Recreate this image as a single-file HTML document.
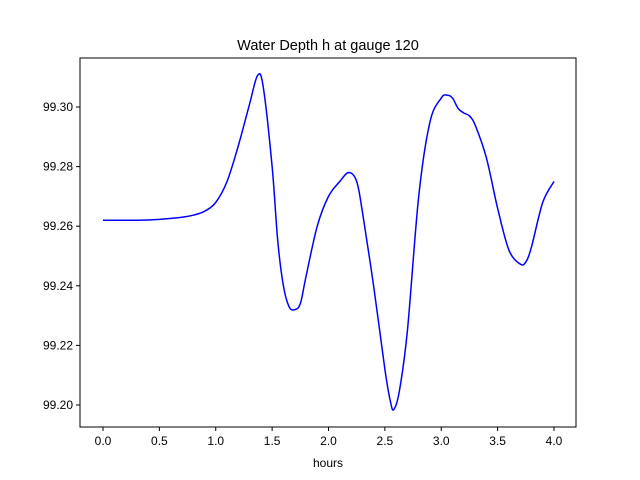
<!DOCTYPE html>
<html><head><meta charset="utf-8"><style>
body{margin:0;background:#fff}
svg{display:block;font-family:"Liberation Sans","DejaVu Sans",sans-serif}
</style></head><body>
<svg id="chart" width="640" height="480"></svg>
<script>
const tVals=[0,0.3,0.5,0.7,0.8,0.9,1.0,1.1,1.2,1.3,1.37,1.42,1.5,1.55,1.6,1.65,1.7,1.75,1.8,1.9,2.0,2.1,2.18,2.25,2.3,2.4,2.5,2.55,2.58,2.63,2.7,2.8,2.9,3.0,3.05,3.1,3.15,3.2,3.25,3.3,3.4,3.5,3.6,3.7,3.75,3.8,3.9,4.0];
const hVals=[99.262,99.262,99.2623,99.263,99.2637,99.265,99.268,99.275,99.287,99.301,99.3105,99.307,99.28,99.255,99.24,99.233,99.232,99.234,99.243,99.26,99.270,99.275,99.278,99.275,99.265,99.24,99.212,99.201,99.1985,99.205,99.225,99.27,99.295,99.303,99.304,99.303,99.2995,99.298,99.297,99.294,99.283,99.266,99.252,99.2473,99.248,99.253,99.268,99.275];
const xTicks=[0,0.5,1,1.5,2,2.5,3,3.5,4];
const xLabels=["0.0","0.5","1.0","1.5","2.0","2.5","3.0","3.5","4.0"];
const yTicks=[99.20,99.22,99.24,99.26,99.28,99.30];
const yLabels=["99.20","99.22","99.24","99.26","99.28","99.30"];
const NS="http://www.w3.org/2000/svg";
const svg=document.getElementById('chart');
const L=80,R=576,T=58,B=427;
const xs=v=>103+(v-0)*(554-103)/4;
const ys=v=>405-(v-99.20)*(405-107)/0.10;
function mk(tag,attrs,parent){const e=document.createElementNS(NS,tag);for(const k in attrs)e.setAttribute(k,attrs[k]);(parent||svg).appendChild(e);return e;}
const frame=mk('rect',{x:L,y:T,width:R-L,height:B-T,fill:'none',stroke:'#000','stroke-width':1});


xTicks.forEach((v,i)=>{
 const x=xs(v);
 const tk=mk('line',{x1:x,x2:x,y1:B,y2:B+4,stroke:'#000'});
 
 
 const tx=mk('text',{x:x,y:B+18,'font-size':12,'text-anchor':'middle'});
 tx.textContent=xLabels[i];
 
 
});
yTicks.forEach((v,i)=>{
 const y=ys(v);
 const tk=mk('line',{x1:L-4,x2:L,y1:y,y2:y,stroke:'#000'});
 
 
 const tx=mk('text',{x:L-7,y:y+4,'font-size':12,'text-anchor':'end'});
 tx.textContent=yLabels[i];
 
 
});
const P=tVals.map((t,i)=>[xs(t),ys(hVals[i])]);
let d='M'+P[0][0]+','+P[0][1];
for(let i=0;i<P.length-1;i++){
 const p0=P[Math.max(0,i-1)],p1=P[i],p2=P[i+1],p3=P[Math.min(P.length-1,i+2)];
 const c1=[p1[0]+(p2[0]-p0[0])/6,p1[1]+(p2[1]-p0[1])/6];
 const c2=[p2[0]-(p3[0]-p1[0])/6,p2[1]-(p3[1]-p1[1])/6];
 d+=' C'+c1[0]+','+c1[1]+' '+c2[0]+','+c2[1]+' '+p2[0]+','+p2[1];
}
const line=mk('path',{d:d,fill:'none',stroke:'#0000ff','stroke-width':1.5});


const title=mk('text',{x:328,y:50,'font-size':14.5,'text-anchor':'middle'});
title.textContent='Water Depth h at gauge 120';


const xt=mk('text',{x:328,y:467,'font-size':12,'text-anchor':'middle'});
xt.textContent='hours';


</script>
</body></html>
